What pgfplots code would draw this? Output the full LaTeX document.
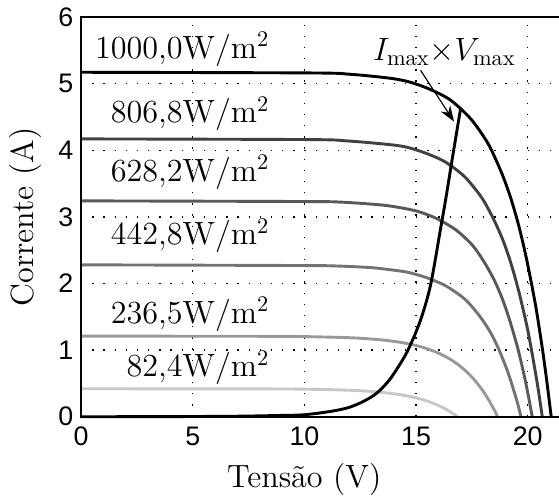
\documentclass[border=0pt]{standalone}
\usepackage{fontspec}
\usepackage{pgfplots}
\pgfplotsset{compat=1.18}
\usetikzlibrary{arrows.meta}
\newfontfamily\hv{Liberation Sans}

\begin{document}
\begin{tikzpicture}
\begin{axis}[
    scale only axis,
    width=214pt, height=179pt,
    xmin=0, xmax=21.4, ymin=0, ymax=6,
    xtick={0,5,10,15,20}, ytick={0,1,2,3,4,5,6},
    axis line style={draw=none},
    major tick length=0pt,
    grid=major,
    major grid style={black, line width=0.6pt, dash pattern=on 0.6pt off 4.4pt},
    tick label style={font=\hv\fontsize{12}{14}\selectfont},
    xticklabel style={yshift=-1pt},
    /pgf/number format/assume math mode=true,
    xlabel={Tensão (V)}, ylabel={Corrente (A)},
    label style={font=\fontsize{14.4}{17}\selectfont},
    xlabel style={at={(axis description cs:0.467,-0.158)}, anchor=center},
    ylabel style={at={(axis description cs:-0.117,0.5)}, anchor=center},
    every axis plot/.append style={line width=1.3pt, smooth, no markers},
    clip=false,
]
% 82,4 W/m2
\addplot[black!22] table {
0      0.42
8.60   0.417
10.25  0.412
11.075 0.407
11.90  0.399
12.725 0.386
13.55  0.363
14.21  0.335
14.54  0.316
14.87  0.294
15.20  0.265
15.53  0.231
15.86  0.189
16.19  0.139
16.355 0.109
16.52  0.076
16.685 0.040
16.85  0
};
% 236,5 W/m2
\addplot[black!40] table {
0      1.21
8.45   1.207
10.15  1.202
11.85  1.188
12.70  1.174
13.55  1.150
14.40  1.111
15.25  1.047
15.93  0.966
16.27  0.911
16.61  0.846
16.95  0.765
17.29  0.667
17.63  0.546
17.97  0.400
18.14  0.313
18.31  0.219
18.48  0.115
18.65  0
};
% 442,8 W/m2
\addplot[black!55] table {
0      2.28
9.50   2.27
11.20  2.265
12.90  2.24
13.75  2.21
14.60  2.17
15.45  2.09
16.30  1.97
16.98  1.82
17.32  1.72
17.66  1.59
18.00  1.44
18.34  1.26
18.68  1.03
19.02  0.75
19.19  0.59
19.36  0.41
19.53  0.22
19.70  0
};
% 628,2 W/m2
\addplot[black!65] table {
0      3.24
10.00  3.23
11.70  3.22
13.40  3.18
14.25  3.14
15.10  3.08
15.95  2.97
16.80  2.80
17.48  2.59
17.82  2.44
18.16  2.26
18.50  2.05
18.84  1.79
19.18  1.46
19.52  1.07
19.69  0.84
19.86  0.59
20.03  0.31
20.20  0
};
% 806,8 W/m2
\addplot[black!75] table {
0      4.17
10.15  4.16
11.90  4.14
13.65  4.09
14.525 4.05
15.40  3.96
16.275 3.83
17.15  3.61
17.85  3.33
18.20  3.14
18.55  2.91
18.90  2.64
19.25  2.30
19.60  1.88
19.95  1.38
20.125 1.08
20.30  0.75
20.475 0.40
20.65  0
};
% 1000,0 W/m2
\addplot[black] table {
0      5.17
10.25  5.16
12.05  5.14
13.85  5.08
14.75  5.02
15.65  4.91
16.55  4.75
17.45  4.47
18.17  4.13
18.53  3.89
18.89  3.61
19.25  3.27
19.61  2.85
19.97  2.33
20.33  1.71
20.51  1.34
20.69  0.94
20.87  0.49
21.05  0
};
% Imax x Vmax
\addplot[black] table {
0      0
4      0.002
7      0.008
9      0.02
10     0.03
11.17  0.08
12.0   0.14
12.7   0.24
13.26  0.36
13.8   0.55
14.3   0.80
14.68  1.03
15.2   1.45
15.65  1.98
16.1   2.83
16.32  3.25
16.6   3.83
17.0   4.64
};

\draw[line width=0.9pt] (rel axis cs:1,1) -- (rel axis cs:0,1) -- (rel axis cs:0,0) -- (rel axis cs:1,0);

\begin{scope}[every node/.style={font=\fontsize{14.4}{17}\selectfont, anchor=base east, inner sep=0pt}]
\node at (axis cs:8.45,5.38) {1000,0W/m$^2$};
\node at (axis cs:8.45,4.41) {806,8W/m$^2$};
\node at (axis cs:8.45,3.53) {628,2W/m$^2$};
\node at (axis cs:8.45,2.58) {442,8W/m$^2$};
\node at (axis cs:8.45,1.40) {236,5W/m$^2$};
\node at (axis cs:8.45,0.60) {82,4W/m$^2$};
\end{scope}
\node[font=\fontsize{14.4}{17}\selectfont, anchor=base, inner sep=0pt] at (axis cs:16.27,5.35) {$I_{\max}{\times}V_{\max}$};
\draw[-{Stealth[length=7pt,width=5pt]}, line width=0.5pt] (axis cs:15.2,5.2) -- (axis cs:16.7,4.43);
\end{axis}
\pgfresetboundingbox
\path[use as bounding box] ([shift={(-36.3pt,-37.2pt)}]current axis.south west) rectangle ([shift={(0pt,7.6pt)}]current axis.north east);
\end{tikzpicture}
\end{document}
